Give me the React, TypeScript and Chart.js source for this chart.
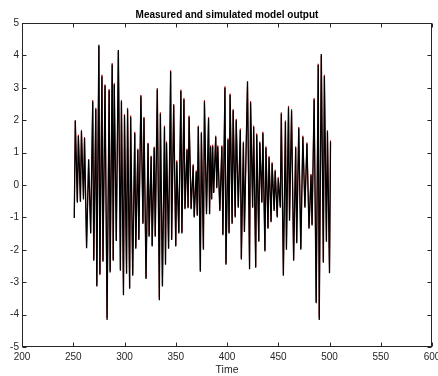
import { useEffect, useRef } from "react";
import { Chart, registerables } from "chart.js";
Chart.register(...registerables);

const chartTitle = "Measured and simulated model output";
const xAxisLabel = "Time";
const xTickValues = [200, 250, 300, 350, 400, 450, 500, 550, 600];
const yTickValues = [-5, -4, -3, -2, -1, 0, 1, 2, 3, 4, 5];

const timeSteps = [
  251, 252, 254, 255, 257, 258, 260, 261, 263, 265, 267, 269, 270, 272, 273, 275, 276, 278, 279, 281,
  283, 285, 286, 288, 289, 290, 292, 294, 296, 297, 299, 300, 302, 303, 305, 306, 308, 310, 311, 313,
  314, 316, 318, 319, 321, 323, 324, 326, 327, 329, 330, 332, 334, 335, 337, 339, 340, 341, 343, 345,
  346, 348, 350, 351, 353, 355, 356, 358, 359, 361, 362, 363, 365, 367, 368, 370, 371, 372, 374, 375,
  377, 378, 380, 382, 383, 384, 385, 386, 387, 389, 390, 391, 393, 395, 396, 398, 399, 401, 402, 403,
  405, 406, 408, 409, 411, 413, 414, 416, 417, 420, 422, 423, 425, 426, 428, 429, 431, 432, 434, 435,
  437, 438, 440, 441, 443, 444, 446, 447, 449, 450, 452, 453, 455, 457, 458, 460, 461, 463, 465, 467,
  468, 470, 472, 474, 476, 478, 480, 482, 483, 485, 487, 489, 490, 492, 494, 495, 497, 498, 500, 501,
];

const measuredOutput = [
  -1.02, 1.98, -0.55, 1.51, -0.52, 1.66, -0.45, 1.45, -1.95, 0.78, -1.5, 2.58, -2.34, 2.34, -3.13, 4.33, -2.74, 3.35, -2.37, 3.07,
  -4.17, 2.92, -2.7, 3.72, -2.34, 3.1, -1.73, 4.17, -2.65, 2.58, -3.4, 2.15, -2.74, 2.34, -3.2, 2.1, -2.8, 1.6, -1.97, 1.08,
  -1.7, 2.74, -1.2, 2.06, -2.9, 1.27, -1.6, 0.87, -1.9, 1.15, -1.6, 2.95, -3.56, 2.2, -3.13, 1.79, -2.46, 1.3, -1.97, 3.5,
  -1.7, 2.46, -1.9, 0.72, -1.5, 2.9, -1.5, 2.64, -0.75, 1.08, -0.72, 2.1, -0.75, 0.6, -1.0, 0.41, -0.95, 1.79, -2.68, 1.6,
  -2.0, 2.58, -0.9, 2.06, -0.9, 1.18, -0.45, 1.2, -0.25, 1.48, -0.1, 1.18, -0.8, 1.18, -1.55, 3.0, -2.46, 1.4, -1.5, 2.78,
  -1.2, 2.3, -1.0, 2.0, -0.7, 1.7, -2.3, 1.3, -1.45, 3.2, -2.6, 2.55, -0.7, 1.79, -2.55, 1.55, -1.75, 1.3, -0.55, 1.6,
  -2.05, 1.15, -1.35, 0.85, -1.15, 0.66, -0.8, 0.43, -1.0, 0.2, -0.7, 2.2, -2.8, 1.95, -2.0, 2.4, -1.1, 2.3, -2.34, 1.15,
  -1.8, 1.75, -2.0, 1.48, -0.7, 1.27, -1.35, 0.3, -1.25, 2.64, -3.65, 3.7, -4.17, 4.04, -2.4, 3.36, -1.75, 1.65, -2.72, 1.34,
];

const simulatedOutput = [
  -1.0, 2.0, -0.5, 1.55, -0.5, 1.7, -0.42, 1.48, -1.9, 0.8, -1.46, 2.62, -2.3, 2.38, -3.1, 4.28, -2.78, 3.4, -2.33, 3.1,
  -4.1, 2.96, -2.66, 3.76, -2.3, 3.14, -1.7, 4.12, -2.6, 2.62, -3.36, 2.18, -2.7, 2.38, -3.16, 2.14, -2.76, 1.64, -1.93, 1.12,
  -1.66, 2.78, -1.16, 2.1, -2.86, 1.3, -1.56, 0.9, -1.86, 1.18, -1.56, 2.99, -3.5, 2.24, -3.08, 1.83, -2.42, 1.34, -1.93, 3.54,
  -1.66, 2.5, -1.86, 0.76, -1.46, 2.94, -1.46, 2.68, -0.71, 1.12, -0.68, 2.14, -0.71, 0.64, -0.96, 0.45, -0.91, 1.83, -2.64, 1.64,
  -1.96, 2.62, -0.86, 2.1, -0.86, 1.22, -0.41, 1.24, -0.21, 1.52, -0.06, 1.22, -0.76, 1.22, -1.51, 3.04, -2.42, 1.44, -1.46, 2.82,
  -1.16, 2.34, -0.96, 2.04, -0.66, 1.74, -2.26, 1.34, -1.41, 3.16, -2.56, 2.59, -0.66, 1.83, -2.51, 1.59, -1.71, 1.34, -0.51, 1.64,
  -2.01, 1.19, -1.31, 0.89, -1.11, 0.7, -0.76, 0.47, -0.96, 0.24, -0.66, 2.24, -2.76, 1.99, -1.96, 2.44, -1.06, 2.34, -2.3, 1.19,
  -1.76, 1.79, -1.96, 1.52, -0.66, 1.31, -1.31, 0.34, -1.21, 2.68, -3.6, 3.74, -4.1, 4.0, -2.36, 3.4, -1.71, 1.69, -2.68, 1.38,
];

const FONT = "'Liberation Sans', Arial, Helvetica, sans-serif";
const AXIS_COLOR = "#262626";

const framePlugin = {
  id: "matlabFrame",
  afterDraw(chart: any) {
    const { ctx, chartArea: a, scales } = chart;
    const xs = scales.x;
    const ys = scales.y;
    const L = Math.round(a.left) + 0.5;
    const R = Math.round(a.right) - 0.5;
    const T = Math.round(a.top) + 0.5;
    const B = Math.round(a.bottom) - 0.5;
    ctx.save();
    ctx.strokeStyle = AXIS_COLOR;
    ctx.lineWidth = 1;
    ctx.strokeRect(L, T, R - L, B - T);
    const tl = 4;
    ctx.beginPath();
    for (const v of xTickValues) {
      const px = Math.round(xs.getPixelForValue(v)) + 0.5;
      ctx.moveTo(px, B);
      ctx.lineTo(px, B - tl);
      ctx.moveTo(px, T);
      ctx.lineTo(px, T + tl);
    }
    for (const v of yTickValues) {
      const py = Math.round(ys.getPixelForValue(v)) + 0.5;
      ctx.moveTo(L, py);
      ctx.lineTo(L + tl, py);
      ctx.moveTo(R, py);
      ctx.lineTo(R - tl, py);
    }
    ctx.stroke();
    ctx.fillStyle = "#000";
    ctx.textAlign = "center";
    ctx.textBaseline = "middle";
    ctx.font = `bold 10px ${FONT}`;
    ctx.fillText(chartTitle, (a.left + a.right) / 2, 15);
    ctx.fillStyle = AXIS_COLOR;
    ctx.font = `10.5px ${FONT}`;
    ctx.fillText(xAxisLabel, (a.left + a.right) / 2, 370);
    ctx.restore();
  },
};

export default function App() {
  const canvasRef = useRef<HTMLCanvasElement | null>(null);

  useEffect(() => {
    document.body.style.margin = "0";
    const canvas = canvasRef.current;
    if (!canvas) return;
    const measured = timeSteps.map((t, i) => ({ x: t, y: measuredOutput[i] }));
    const simulated = timeSteps.map((t, i) => ({ x: t, y: simulatedOutput[i] }));
    const chart = new Chart(canvas, {
      type: "line",
      data: {
        datasets: [
          {
            label: "Measured",
            data: measured,
            borderColor: "#000000",
            borderWidth: 1.3,
            pointRadius: 0,
            tension: 0,
          },
          {
            label: "Simulated",
            data: simulated,
            borderColor: "#b01010",
            borderWidth: 0.9,
            pointRadius: 0,
            tension: 0,
          },
        ],
      },
      options: {
        animation: false,
        responsive: true,
        maintainAspectRatio: false,
        layout: { padding: { top: 23, right: 6, left: 0, bottom: 0 }, autoPadding: false },
        plugins: { legend: { display: false }, tooltip: { enabled: false }, title: { display: false } },
        scales: {
          x: {
            type: "linear",
            min: 200,
            max: 600,
            afterFit: (s: any) => {
              s.height = 29;
              s.paddingLeft = 0;
              s.paddingRight = 0;
            },
            afterBuildTicks: (s: any) => { s.ticks = xTickValues.map((v) => ({ value: v })); },
            grid: { display: false, drawTicks: false },
            border: { display: false },
            ticks: { padding: 4, color: AXIS_COLOR, font: { size: 10, family: FONT }, maxRotation: 0, autoSkip: false },
          },
          y: {
            type: "linear",
            min: -5,
            max: 5,
            afterFit: (s: any) => {
              s.width = 22;
              s.paddingTop = 0;
              s.paddingBottom = 0;
            },
            afterBuildTicks: (s: any) => { s.ticks = yTickValues.map((v) => ({ value: v })); },
            grid: { display: false, drawTicks: false },
            border: { display: false },
            ticks: { padding: 3, color: AXIS_COLOR, font: { size: 10, family: FONT }, autoSkip: false },
          },
        },
      },
      plugins: [framePlugin],
    });
    return () => chart.destroy();
  }, []);

  return (
    <div style={{ position: "relative", width: 438, height: 376, background: "#fff" }}>
      <canvas ref={canvasRef} />
    </div>
  );
}
